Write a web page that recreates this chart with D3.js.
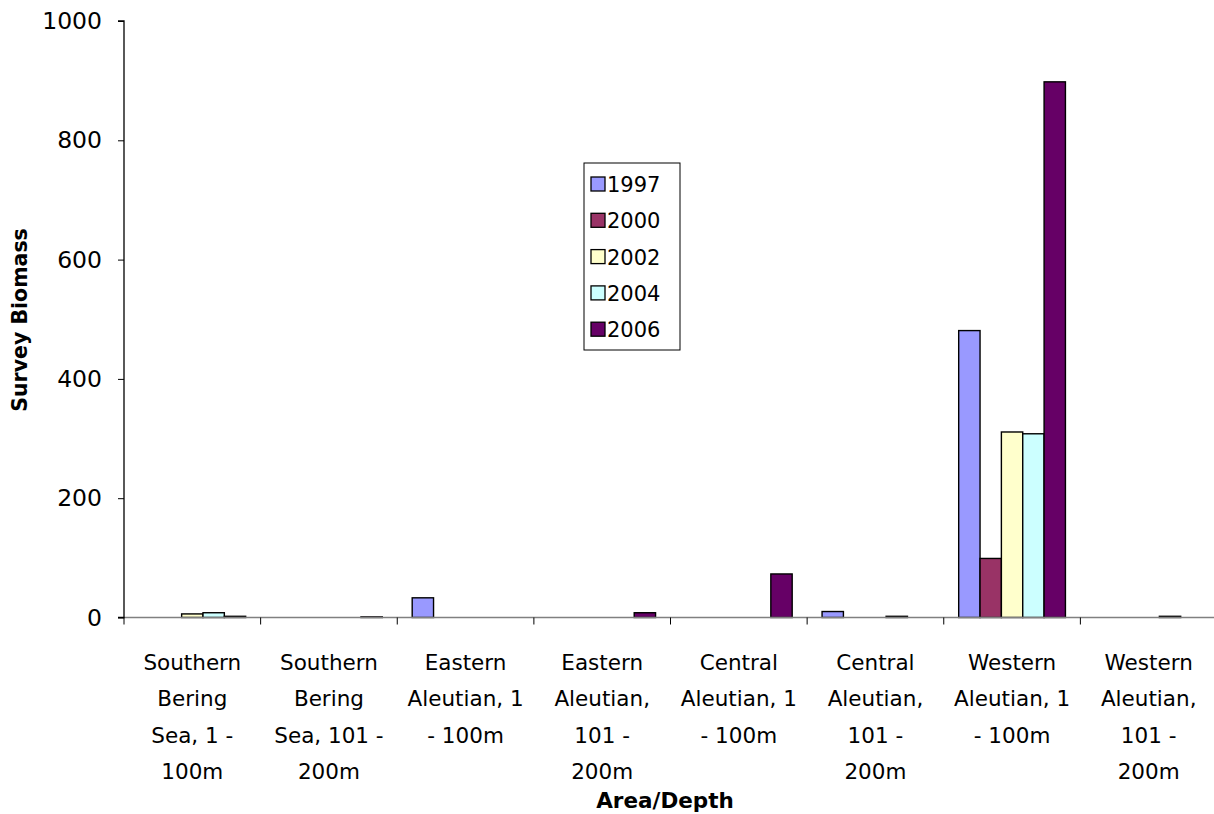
<!DOCTYPE html>
<html>
<head>
<meta charset="utf-8">
<script src="https://cdn.jsdelivr.net/npm/d3@7"></script>
<style>
  body { margin: 0; background: #fff; }
  text { font-family: "DejaVu Sans", sans-serif; }
</style>
</head>
<body>
<script>
// category labels, already split the way the original wraps them
var categories = [
  ['Southern', 'Bering', 'Sea, 1 -', '100m'],
  ['Southern', 'Bering', 'Sea, 101 -', '200m'],
  ['Eastern', 'Aleutian, 1', '- 100m'],
  ['Eastern', 'Aleutian,', '101 -', '200m'],
  ['Central', 'Aleutian, 1', '- 100m'],
  ['Central', 'Aleutian,', '101 -', '200m'],
  ['Western', 'Aleutian, 1', '- 100m'],
  ['Western', 'Aleutian,', '101 -', '200m']
];

var years = ['1997', '2000', '2002', '2004', '2006'];

var v1997 = [0, 0, 33, 0, 0, 10, 481, 0];
var v2000 = [0, 0, 0, 0, 0, 0, 99, 0];
var v2002 = [6, 0, 0, 0, 0, 0, 311, 0];
var v2004 = [8, 0, 0, 0, 0, 2, 308, 2];
var v2006 = [2, 1, 0, 8, 73, 0, 898, 0];

var yTicks = [0, 200, 400, 600, 800, 1000];

var colors = ['#9999ff', '#993366', '#ffffcc', '#ccffff', '#660066'];

var series = [v1997, v2000, v2002, v2004, v2006];

var W = 1214, H = 814;
var mLeft = 124, mRight = 1217, mTop = 21, mBottom = 617.5;

var svg = d3.select('body').append('svg')
  .attr('width', W)
  .attr('height', H);

var x = d3.scaleBand()
  .domain(d3.range(categories.length))
  .range([mLeft, mRight]);

var x1 = d3.scaleBand()
  .domain(d3.range(years.length))
  .range([0, x.bandwidth()])
  .paddingOuter(0.7)
  .paddingInner(0);

var y = d3.scaleLinear().domain([0, 1000]).range([mBottom, mTop]);

// bars
var groups = svg.selectAll('g.cat')
  .data(categories)
  .enter().append('g')
  .attr('class', 'cat')
  .attr('transform', function(d, i) { return 'translate(' + x(i) + ',0)'; });

groups.selectAll('rect')
  .data(function(d, i) {
    return series.map(function(s, k) { return {k: k, v: s[i]}; }).filter(function(d) { return d.v > 0; });
  })
  .enter().append('rect')
  .attr('x', function(d) { return x1(d.k); })
  .attr('y', function(d) { return y(d.v); })
  .attr('width', x1.bandwidth())
  .attr('height', function(d) { return y(0) - y(d.v); })
  .attr('fill', function(d) { return colors[d.k]; })
  .attr('stroke', '#000')
  .attr('stroke-width', 1.4);

// x axis line (grey) with black category ticks
svg.append('line')
  .attr('x1', mLeft).attr('x2', mRight)
  .attr('y1', mBottom).attr('y2', mBottom)
  .attr('stroke', '#808080').attr('stroke-width', 1.5);

svg.selectAll('line.xtick')
  .data(d3.range(categories.length + 1))
  .enter().append('line')
  .attr('class', 'xtick')
  .attr('x1', function(d) { return mLeft + d * x.bandwidth(); })
  .attr('x2', function(d) { return mLeft + d * x.bandwidth(); })
  .attr('y1', mBottom).attr('y2', mBottom + 7)
  .attr('stroke', '#000').attr('stroke-width', 1);

// category labels
var labels = svg.selectAll('text.xlab')
  .data(categories)
  .enter().append('text')
  .attr('class', 'xlab')
  .attr('text-anchor', 'middle')
  .attr('font-size', 21.5)
  .attr('fill', '#000');

labels.selectAll('tspan')
  .data(function(d, i) { return d.map(function(t) { return {t: t, i: i}; }); })
  .enter().append('tspan')
  .attr('x', function(d) { return x(d.i) + x.bandwidth() / 2; })
  .attr('y', function(d, j) { return 670 + j * 36.3; })
  .text(function(d) { return d.t; });

// y axis
var yAxis = d3.axisLeft(y).tickValues(yTicks).tickFormat(d3.format('d')).tickSize(6).tickPadding(16);
var ya = svg.append('g')
  .attr('transform', 'translate(' + mLeft + ',0)')
  .call(yAxis);
ya.select('.domain').attr('stroke', '#000').attr('stroke-width', 1.3).attr('d', 'M-6,' + mTop + 'H0V' + mBottom + 'H-6');
ya.selectAll('.tick line').attr('stroke', '#000');
ya.selectAll('.tick text')
  .attr('font-size', 23.5)
  .attr('fill', '#000')
  .attr('font-family', '"DejaVu Sans", sans-serif');

// axis titles
svg.append('text')
  .attr('transform', 'translate(27,320) rotate(-90)')
  .attr('text-anchor', 'middle')
  .attr('font-size', 20.5)
  .attr('font-weight', 'bold')
  .text('Survey Biomass');

svg.append('text')
  .attr('x', 665)
  .attr('y', 808)
  .attr('text-anchor', 'middle')
  .attr('font-size', 21.5)
  .attr('font-weight', 'bold')
  .text('Area/Depth');

// legend
var lg = svg.append('g').attr('transform', 'translate(584,163)');
lg.append('rect')
  .attr('width', 96).attr('height', 187)
  .attr('fill', '#fff').attr('stroke', '#000').attr('stroke-width', 1);

var items = lg.selectAll('g.item')
  .data(years)
  .enter().append('g')
  .attr('class', 'item')
  .attr('transform', function(d, i) { return 'translate(0,' + (21 + i * 36.3) + ')'; });

items.append('rect')
  .attr('x', 7).attr('y', -7)
  .attr('width', 14).attr('height', 14)
  .attr('fill', function(d, i) { return colors[i]; })
  .attr('stroke', '#000').attr('stroke-width', 1.3);

items.append('text')
  .attr('x', 23).attr('y', 8)
  .attr('font-size', 21)
  .text(function(d) { return d; });
</script>
</body>
</html>
